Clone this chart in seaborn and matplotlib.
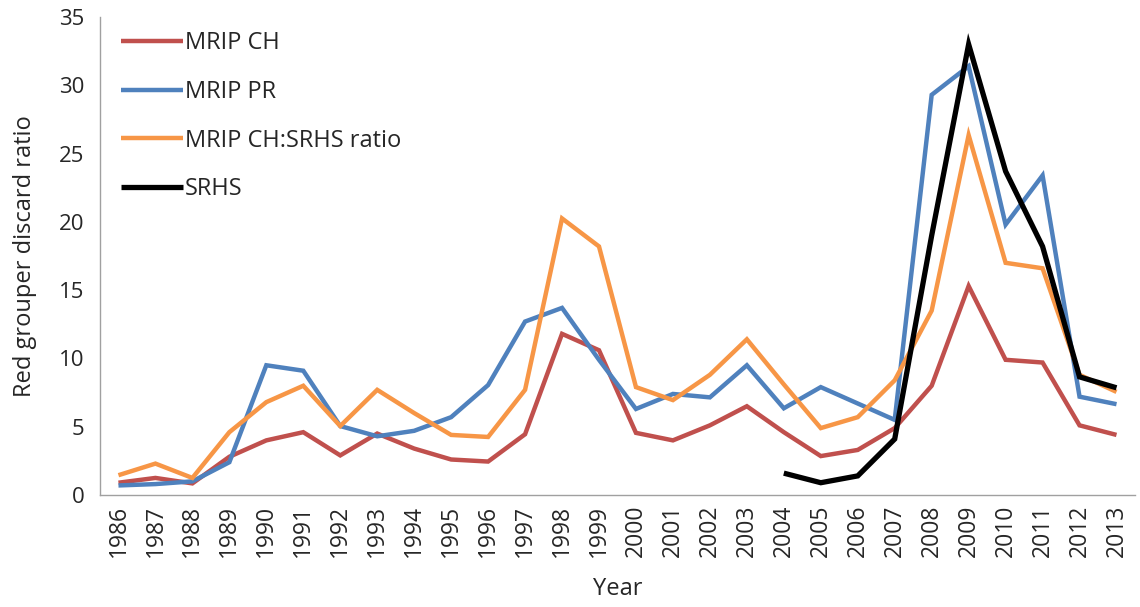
import matplotlib
matplotlib.use("Agg")
import matplotlib.pyplot as plt
import seaborn as sns
import pandas as pd
import numpy as np

years = list(range(1986, 2014))
mrip_ch = [0.9, 1.25, 0.85, 2.8, 4.0, 4.6, 2.9, 4.5, 3.4, 2.6, 2.45, 4.45, 11.8, 10.6,
           4.55, 4.0, 5.1, 6.5, 4.6, 2.85, 3.3, 4.9, 8.0, 15.3, 9.9, 9.7, 5.1, 4.4]
mrip_pr = [0.7, 0.8, 1.0, 2.4, 9.5, 9.1, 5.05, 4.3, 4.7, 5.7, 8.05, 12.7, 13.7, 9.9,
           6.3, 7.4, 7.15, 9.5, 6.35, 7.9, 6.7, 5.5, 29.3, 31.4, 19.8, 23.4, 7.2, 6.65]
mrip_ratio = [1.45, 2.3, 1.25, 4.6, 6.8, 8.0, 5.05, 7.7, 6.0, 4.4, 4.25, 7.7, 20.25, 18.2,
              7.9, 6.95, 8.8, 11.4, 8.1, 4.9, 5.7, 8.4, 13.5, 26.35, 17.0, 16.6, 8.8, 7.55]
srhs_years = list(range(2004, 2014))
srhs = [1.6, 0.9, 1.4, 4.1, 19.0, 33.0, 23.7, 18.2, 8.65, 7.85]

series_names = ["MRIP CH", "MRIP PR", "MRIP CH:SRHS ratio", "SRHS"]
colors = ["#C0504D", "#4F81BD", "#F79646", "#000000"]
widths = [3.2, 3.2, 3.2, 3.8]

rows = []
for name, vals, yrs in [("MRIP CH", mrip_ch, years), ("MRIP PR", mrip_pr, years),
                        ("MRIP CH:SRHS ratio", mrip_ratio, years), ("SRHS", srhs, srhs_years)]:
    for y, v in zip(yrs, vals):
        rows.append({"idx": years.index(y), "value": v, "series": name})
df = pd.DataFrame(rows)

sns.set_style("white")
plt.rcParams['font.family'] = ['Open Sans', 'DejaVu Sans']

fig = plt.figure(figsize=(11.4, 6.07), dpi=100)
ax = fig.add_axes([0.0877, 0.1845, 0.9079, 0.7875])

for name, c, w in zip(series_names, colors, widths):
    sub = df[df.series == name]
    sns.lineplot(data=sub, x="idx", y="value", color=c, linewidth=w, label=name, ax=ax,
                 solid_joinstyle="miter", solid_capstyle="butt")

ax.set_xlim(-0.5, len(years) - 0.5)
ax.set_ylim(0, 35)
ax.set_yticks(np.arange(0, 36, 5))
ax.set_yticklabels([str(v) for v in range(0, 36, 5)], fontsize=16)
ax.set_xticks(range(len(years)))
ax.set_xticklabels([str(y) for y in years], rotation=90, fontsize=16.5)
ax.set_xticks(np.arange(-0.5, len(years), 1), minor=True)
ax.tick_params(axis="x", which="major", length=0, pad=7)
ax.tick_params(axis="x", which="minor", length=6, color="#A0A0A0", width=1, direction="out")
ax.tick_params(axis="y", which="major", length=6, color="#A0A0A0", width=1, direction="out", pad=5)

for s in ["top", "right"]:
    ax.spines[s].set_visible(False)
for s in ["left", "bottom"]:
    ax.spines[s].set_color("#A0A0A0")
    ax.spines[s].set_linewidth(1)

ax.set_xlabel("Year", fontsize=17, labelpad=14)
ax.set_ylabel("Red grouper discard ratio", fontsize=17, labelpad=16)
ax.grid(False)

leg = ax.legend(loc="upper left", frameon=False, fontsize=17, handlelength=2.6,
                handletextpad=0.1, labelspacing=1.05, bbox_to_anchor=(0.0, 1.015))

fig.savefig("out.png", dpi=100)
